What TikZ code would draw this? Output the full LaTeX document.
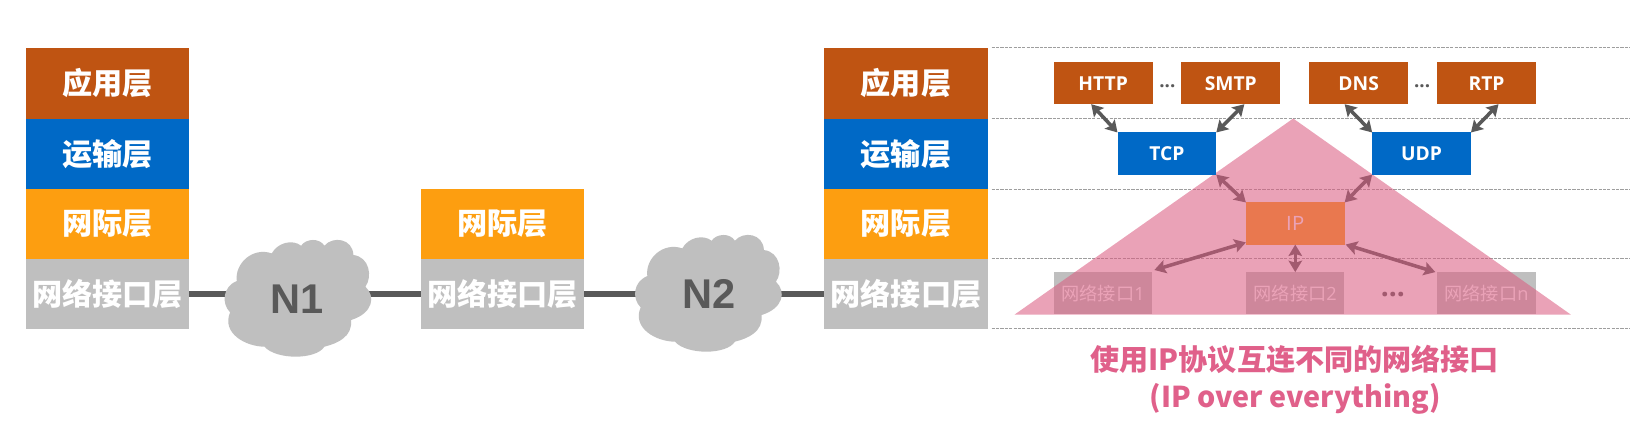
\documentclass[tikz,border=0pt]{standalone}
\usepackage{fontspec}
\setmainfont{Open Sans}
\newfontfamily\cjk{Noto Sans CJK SC}
\newfontfamily\arialb{Liberation Sans}
\usetikzlibrary{arrows.meta}
\pgfdeclarelayer{front}
\pgfsetlayers{main,front}
\definecolor{cbrown}{RGB}{191,84,18}
\definecolor{cblue}{RGB}{0,105,198}
\definecolor{corange}{RGB}{253,158,16}
\definecolor{cgray}{RGB}{191,191,191}
\definecolor{cdark}{RGB}{89,89,89}
\definecolor{cpink}{RGB}{219,92,129}
\definecolor{ccap}{RGB}{224,96,138}
\newcommand{\cloudshape}{(62,262)
 .. controls (35,235) and (40,185) .. (82,168)
 .. controls (75,115) and (130,65) .. (187,85)
 .. controls (205,52) and (250,42) .. (275,62)
 .. controls (290,40) and (330,38) .. (345,62)
 .. controls (370,32) and (430,40) .. (432,90)
 .. controls (480,95) and (490,155) .. (468,185)
 .. controls (500,215) and (490,265) .. (425,285)
 .. controls (430,335) and (385,355) .. (345,365)
 .. controls (320,405) and (200,405) .. (165,365)
 .. controls (110,365) and (35,325) .. (62,262) -- cycle}
\newcommand{\lay}[2]{\raisebox{-#1pt}{\fontsize{29}{29}\selectfont\cjk\bfseries #2}}
\tikzset{
 x=1pt,y=-1pt,
 layerbox/.style={minimum width=157pt,inner sep=0pt,outer sep=0pt,text=white},
 proto/.style={minimum width=95pt,minimum height=40.5pt,inner sep=0pt,outer sep=0pt,text=white,font=\fontsize{18.5}{20}\selectfont\bfseries},
 iface/.style={minimum width=94.5pt,minimum height=40.5pt,inner sep=0pt,outer sep=0pt,fill=cgray,text=white,font=\fontsize{17.5}{20}\selectfont},
 dots/.style={inner sep=0pt,anchor=base,text=cdark,font=\fontsize{18}{20}\selectfont\bfseries},
 link/.style={draw=cdark,line width=5.5pt},
 guide/.style={draw=black!38,line width=1.2pt,dash pattern=on 3pt off 1.2pt},
 duplex/.style={draw=cdark,line width=3.4pt,{Stealth[length=11pt,width=13pt,inset=2pt]}-{Stealth[length=11pt,width=13pt,inset=2pt]}},
 netname/.style={inner sep=0pt,text=cdark,font=\fontsize{40}{40}\selectfont\arialb\bfseries},
 caption/.style={inner sep=0pt,text=ccap},
}
\begin{document}
\begin{tikzpicture}
\useasboundingbox[fill=white] (0,0) rectangle (1568,416.5);
% left stack
\node[layerbox,minimum height=68pt,fill=cbrown] (l1) at (103.5,80) {\lay{3}{应用层}};
\node[layerbox,minimum height=68pt,fill=cblue] (l2) at (103.5,148) {\lay{3}{运输层}};
\node[layerbox,minimum height=67.5pt,fill=corange] (l3) at (103.5,215.7) {\lay{4}{网际层}};
\node[layerbox,minimum height=67pt,fill=cgray] (l4) at (103.5,282.9) {\lay{5}{网络接口层}};
% middle stack
\node[layerbox,minimum height=67.5pt,fill=corange] (m3) at (483.5,215.7) {\lay{4}{网际层}};
\node[layerbox,minimum height=67pt,fill=cgray] (m4) at (483.5,282.9) {\lay{5}{网络接口层}};
% right stack
\node[layerbox,minimum height=68pt,fill=cbrown] (r1) at (871.5,80) {\lay{3}{应用层}};
\node[layerbox,minimum height=68pt,fill=cblue] (r2) at (871.5,148) {\lay{3}{运输层}};
\node[layerbox,minimum height=67.5pt,fill=corange] (r3) at (871.5,215.7) {\lay{4}{网际层}};
\node[layerbox,minimum height=67pt,fill=cgray] (r4) at (871.5,282.9) {\lay{5}{网络接口层}};
% links and clouds
\coordinate (c1) at (287,282.9);
\coordinate (c2) at (682,282.9);
\draw[link] (l4.east) -- (c1) -- (m4.west);
\draw[link] (m4.east) -- (c2) -- (r4.west);
\begin{scope}[shift={(201.5,216.5)},x=0.3205pt,y=-0.3205pt]
\fill[cgray] \cloudshape;
\end{scope}
\begin{scope}[shift={(596.4,211.7)},x=0.3205pt,y=-0.3205pt]
\fill[cgray] \cloudshape;
\end{scope}
\node[netname] (n1) at (285.5,287.7) {N1};
\node[netname] (n2) at (682,283) {N2};
% guides
\foreach \i/\yy in {0/46,1/114,2/182,3/249,4/316}{
 \coordinate (ga\i) at (954,\yy);
 \coordinate (gb\i) at (1568,\yy);
 \draw[guide] (ga\i) -- (gb\i);
}
% protocol boxes
\node[proto,fill=cbrown] (http) at (1061.2,80) {HTTP};
\node[proto,fill=cbrown] (smtp) at (1184,80) {SMTP};
\node[proto,fill=cbrown] (dns) at (1307,80) {DNS};
\node[proto,fill=cbrown] (rtp) at (1430,80) {RTP};
\node[dots] (d1) at (1123,84) {...};
\node[dots] (d2) at (1368,84) {...};
\begin{pgfonlayer}{front}
\node[proto,fill=cblue] (tcp) at (1122.5,147.7) {TCP};
\node[proto,fill=cblue] (udp) at (1367.5,147.7) {UDP};
\end{pgfonlayer}
\node[proto,fill=corange] (ip) at (1246,215) {\mdseries\cjk IP};
\node[iface] (if1) at (1061.2,282) {\cjk 网络接口\rmfamily 1};
\node[iface] (if2) at (1246,282) {\cjk 网络接口\rmfamily 2};
\node[iface] (ifn) at (1430,282) {\cjk 网络接口\rmfamily n};
\node[dots,font=\fontsize{27}{28}\selectfont\bfseries] (d3) at (1340,285) {...};
% arrows
\draw[duplex] ([xshift=36pt]http.south west) -- (tcp.north west);
\draw[duplex] ([xshift=60.5pt]smtp.south west) -- (tcp.north east);
\draw[duplex] ([xshift=34pt]dns.south west) -- (udp.north west);
\draw[duplex] ([xshift=59pt]rtp.south west) -- (udp.north east);
\draw[duplex] (tcp.south east) -- (ip.north west);
\draw[duplex] (udp.south west) -- (ip.north east);
\draw[duplex] ([yshift=2pt]ip.south west) -- ([xshift=2pt,yshift=2pt]if1.north east);
\draw[duplex] (ip.south) -- (if2.north);
\draw[duplex] ([xshift=1pt]ip.south east) -- ([xshift=-2pt]ifn.north west);
% overlay triangle
\coordinate (ta) at (1244,114);
\coordinate (tb) at (976,302.6);
\coordinate (tc) at (1511,302.6);
\fill[cpink,fill opacity=0.565] (ta) -- (tb) -- (tc) -- cycle;
% caption
\node[caption] (cap1) at (1245.5,346) {\fontsize{28}{30}\selectfont\cjk\bfseries 使用IP协议互连不同的网络接口};
\node[caption] (cap2) at (1246,384) {\fontsize{27.6}{30}\selectfont\cjk\bfseries (IP over everything)};
\end{tikzpicture}
\end{document}
